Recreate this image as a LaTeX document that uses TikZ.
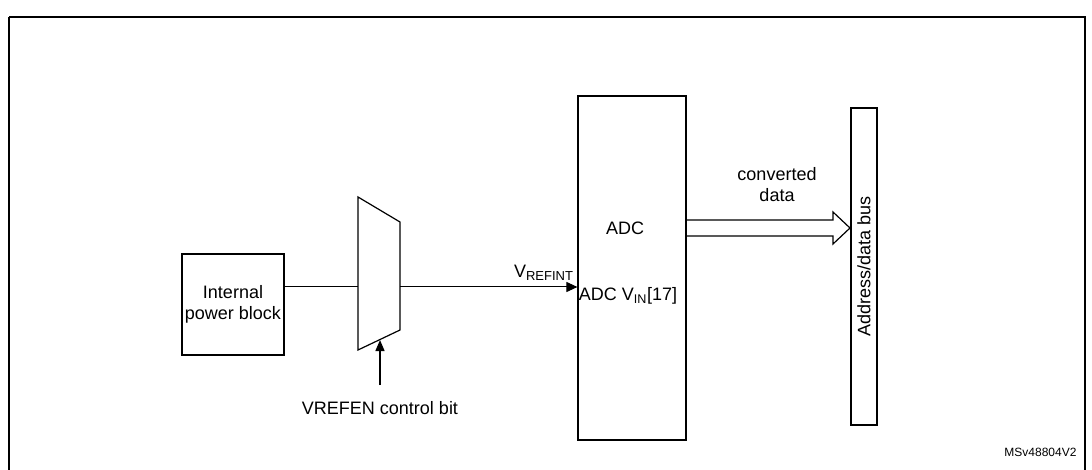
\documentclass[tikz,border=0pt]{standalone}
\usepackage{fontspec}
\setmainfont{Liberation Sans}
\usetikzlibrary{arrows.meta}
\begin{document}
\begin{tikzpicture}[x=1pt,y=-1pt,
  box/.style={draw,line width=1.2pt,inner sep=0pt},
  lbl/.style={font=\fontsize{18}{21}\selectfont,align=center},
  wire/.style={line width=1pt}]
\useasboundingbox (0,0) rectangle (1092,470);
\draw[line width=1.6pt] (9,17) -- (9,472) (9,17) -- (1085,17) -- (1085,472);
\node[box,minimum width=102,minimum height=101] (pb) at (233,304.5) {};
\node[lbl] at (pb) {Internal\\power block};
\draw[line width=1.2pt] (358,197) -- (400,222) -- (400,330) -- (358,350) -- cycle;
\coordinate (muxl) at (358,287); \coordinate (muxr) at (400,287);
\coordinate (muxb) at (380,340);
\node[box,minimum width=108,minimum height=344] (adc) at (632,268) {};
\node[lbl] at (625,228) {ADC};
\node[lbl] (vin) at (628,296) {ADC V\textsubscript{IN}[17]};
\node[box,minimum width=26,minimum height=317] (bus) at (864,266.5) {};
\node[lbl,rotate=90] at (bus) {Address/data bus};
\draw[wire] (pb.east|-muxl) -- (muxl);
\draw[wire,-{Triangle[length=11pt,width=10pt]}] (muxr) -- (adc.west|-muxr);
\node[lbl,anchor=south east] at (577,284) {V\textsubscript{\fontsize{13}{14}\selectfont REFINT}};
\node[lbl] (vref) at (380,408) {VREFEN control bit};
\draw[wire,line width=1.4pt,-{Triangle[length=11pt,width=9pt]}] (380,385) -- (muxb);
\draw[line width=1.2pt] (686,220) -- (833,220) -- (833,212) -- (850,228) -- (833,244) -- (833,236) -- (686,236);
\node[lbl] at (777,185) {converted\\data};
\node[font=\fontsize{12}{14}\selectfont,anchor=east] at (1080,452) {MSv48804V2};
\end{tikzpicture}
\end{document}
